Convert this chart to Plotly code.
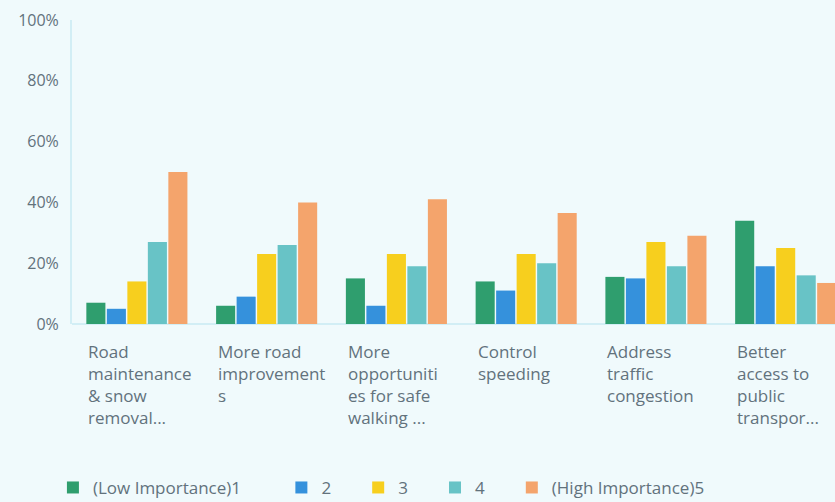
import plotly.graph_objects as go

categories = ["Road maintenance & snow removal...", "More road improvements",
              "More opportunities for safe walking ...", "Control speeding",
              "Address traffic congestion", "Better access to public transpor..."]
category_labels = ["Road<br>maintenance<br>& snow<br>removal...",
                   "More road<br>improvement<br>s",
                   "More<br>opportuniti<br>es for safe<br>walking ...",
                   "Control<br>speeding",
                   "Address<br>traffic<br>congestion",
                   "Better<br>access to<br>public<br>transpor..."]
series_names = ["(Low Importance)1", "2", "3", "4", "(High Importance)5"]
values_1 = [7, 6, 15, 14, 15.5, 34]
values_2 = [5, 9, 6, 11, 15, 19]
values_3 = [14, 23, 23, 23, 27, 25]
values_4 = [27, 26, 19, 20, 19, 16]
values_5 = [50, 40, 41, 36.5, 29, 13.5]
colors = ["#2f9e6e", "#3591dc", "#f7cf1e", "#68c3c6", "#f4a46c"]
y_ticks = [0, 20, 40, 60, 80, 100]
y_tick_text = ["0%", "20%", "40%", "60%", "80%", "100%"]

all_values = [values_1, values_2, values_3, values_4, values_5]
x_idx = list(range(len(categories)))
pads = [8, 5, 5, 5, 5]

fig = go.Figure()
for name, vals, col, p in zip(series_names, all_values, colors, pads):
    fig.add_trace(go.Bar(x=x_idx, y=vals, name=name + "\u00a0" * p,
                         marker=dict(color=col, line=dict(width=0)),
                         hovertext=categories))

text_col = "#62727c"
for i, lab in enumerate(category_labels):
    fig.add_annotation(x=i - 0.39, y=-0.045, xref="x", yref="paper", text=lab,
                       showarrow=False, xanchor="left", yanchor="top", align="left",
                       font=dict(family="Open Sans", size=17, color=text_col))

bg = "#f0fafc"
fig.update_layout(
    width=835, height=502,
    paper_bgcolor=bg, plot_bgcolor=bg,
    margin=dict(l=72, r=0, t=20, b=178, autoexpand=False),
    barmode="group", bargap=0.21, bargroupgap=0.07,
    font=dict(family="Open Sans", size=14, color=text_col),
    showlegend=True,
    legend=dict(orientation="h", x=-0.025, y=-0.48, xanchor="left", yanchor="top",
                font=dict(size=17, color=text_col), itemwidth=30,
                bgcolor="rgba(0,0,0,0)"),
    xaxis=dict(range=[-0.5, 5.38], showticklabels=False, showgrid=False, zeroline=False,
               showline=False, ticks=""),
    yaxis=dict(range=[0, 100], tickvals=y_ticks, ticktext=y_tick_text, showgrid=False,
               automargin=False, ticklabelstandoff=8,
               zeroline=True, zerolinecolor="#d2eef5", zerolinewidth=2,
               showline=True, linecolor="#d2eef5", linewidth=2, ticks="",
               tickfont=dict(size=16, color=text_col)),
)

fig.write_html("out.html", config={"displayModeBar": False},
               post_script="document.body.style.margin='0';document.body.style.background='#f0fafc';")
